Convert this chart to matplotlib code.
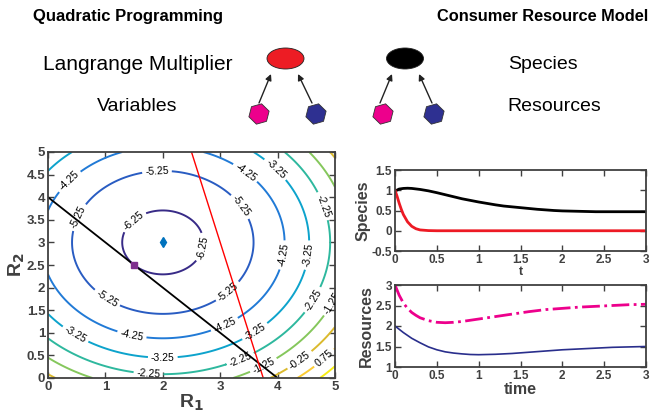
import numpy as np
import matplotlib
matplotlib.use('Agg')
from matplotlib import pyplot as plt
from matplotlib.patches import Ellipse, RegularPolygon

# quadratic objective: 0.5*|r - center|^2 + fmin
center = [2.0, 3.0]
fmin = -6.5
levels = [-6.25, -5.25, -4.25, -3.25, -2.25, -1.25, -0.25, 0.75, 1.75]
# constraints a1*R1 + a2*R2 = b
con_black = [1.0, 1.0, 4.0]
con_red = [4.0, 1.0, 15.0]
qp_solution = [1.5, 2.5]

# species
t_sp1 = [0, 0.05, 0.1, 0.15, 0.2, 0.3, 0.4, 0.5, 0.6, 0.7, 0.8, 0.9, 1.0, 1.1, 1.2, 1.3,
         1.4, 1.5, 1.6, 1.7, 1.8, 1.9, 2.0, 2.2, 2.4, 2.6, 2.8, 3.0]
sp1 = [0.98, 1.03, 1.045, 1.05, 1.045, 1.02, 0.985, 0.94, 0.89, 0.84, 0.79, 0.75, 0.71,
       0.675, 0.64, 0.61, 0.59, 0.57, 0.55, 0.53, 0.515, 0.50, 0.49, 0.48, 0.47, 0.47, 0.47, 0.47]
t_sp2 = [0, 0.025, 0.05, 0.075, 0.1, 0.15, 0.2, 0.25, 0.3, 0.4, 0.5, 1.0, 2.0, 3.0]
sp2 = [1.0, 0.85, 0.68, 0.53, 0.40, 0.22, 0.11, 0.05, 0.02, 0.004, 0.0, 0.0, 0.0, 0.0]

# resources
t_r1 = [0, 0.05, 0.1, 0.15, 0.2, 0.25, 0.3, 0.4, 0.5, 0.6, 0.7, 0.8, 0.9, 1.0, 1.2, 1.4,
        1.6, 1.8, 2.0, 2.2, 2.4, 2.6, 2.8, 3.0]
res1 = [3.0, 2.75, 2.56, 2.43, 2.33, 2.26, 2.20, 2.13, 2.09, 2.08, 2.09, 2.11, 2.14, 2.17,
        2.23, 2.29, 2.35, 2.40, 2.43, 2.46, 2.48, 2.50, 2.52, 2.53]
t_r2 = [0, 0.1, 0.2, 0.3, 0.4, 0.5, 0.6, 0.7, 0.8, 0.9, 1.0, 1.2, 1.4, 1.6, 1.8, 2.0,
        2.2, 2.4, 2.6, 2.8, 3.0]
res2 = [2.0, 1.84, 1.70, 1.59, 1.49, 1.42, 1.37, 1.34, 1.32, 1.305, 1.30, 1.31, 1.33,
        1.36, 1.39, 1.42, 1.44, 1.46, 1.48, 1.49, 1.50]

# where the contour labels sit (roughly as in the figure)
label_spots = [(1.52, 3.43), (2.65, 2.9), (1.9, 4.53), (0.56, 3.54), (3.34, 3.78),
               (1.03, 1.77), (3.14, 1.9), (0.38, 4.34), (3.43, 4.53), (4.09, 2.72),
               (1.46, 0.95), (3.08, 1.17), (3.95, 4.6), (4.51, 2.72), (0.47, 0.95),
               (2.0, 0.46), (3.61, 1.02), (4.74, 3.78), (1.75, 0.09), (4.56, 1.77),
               (3.34, 0.44), (4.95, 1.66), (3.75, 0.29), (4.36, 0.44), (4.79, 0.47)]

# parula-like colours, one per level
level_colors = [(0.22, 0.17, 0.53), (0.16, 0.36, 0.76), (0.13, 0.48, 0.84),
                (0.05, 0.64, 0.80), (0.18, 0.72, 0.62), (0.52, 0.78, 0.36),
                (0.86, 0.73, 0.18), (0.99, 0.80, 0.20), (0.97, 0.93, 0.08)]

plt.rcParams['font.family'] = ['Liberation Sans', 'DejaVu Sans']
axc = '#404040'


def matlab_style(ax, fs=8):
    for s in ax.spines.values():
        s.set_color(axc)
        s.set_linewidth(1.3)
    ax.tick_params(direction='in', top=True, right=True, length=4, width=1,
                   colors=axc, labelsize=fs, pad=2)
    for lab in ax.get_xticklabels() + ax.get_yticklabels():
        lab.set_fontweight('bold')


fig = plt.figure(figsize=(6.68, 4.12), dpi=100)

# ---- contour plot
ax = fig.add_axes([48/668, 34/412, 287/668, 226/412])
g = np.linspace(0, 5, 301)
X, Y = np.meshgrid(g, g)
Z = 0.5 * ((X - center[0])**2 + (Y - center[1])**2) + fmin
cs = ax.contour(X, Y, Z, levels=levels, colors=level_colors, linewidths=1.4)
ax.clabel(cs, fmt='%.2f', fontsize=7.5, colors='k', inline=True, inline_spacing=3,
          manual=label_spots)
xs = np.array([0, 5])
a, b, c = con_black
ax.plot(xs, (c - a*xs)/b, color='k', lw=1.3)
a, b, c = con_red
ax.plot(xs, (c - a*xs)/b, color='red', lw=1.0)
ax.plot(center[0], center[1], 'd', color=(0, 0.447, 0.741), ms=5)
ax.plot(qp_solution[0], qp_solution[1], 's', color=(0.494, 0.184, 0.556), ms=5)
ax.set_xlim(0, 5)
ax.set_ylim(0, 5)
ax.set_xticks(range(6))
ax.set_yticks(np.arange(0, 5.01, 0.5))
ax.set_yticklabels(['0', '0.5', '1', '1.5', '2', '2.5', '3', '3.5', '4', '4.5', '5'])
matlab_style(ax, 9.5)
ax.set_xlabel('R$_\\mathbf{1}$', fontsize=14, fontweight='bold', color=axc, labelpad=0)
ax.set_ylabel('R$_\\mathbf{2}$', fontsize=14, fontweight='bold', color=axc, labelpad=0)

# ---- species
ax1 = fig.add_axes([395/668, 161/412, 251/668, 81/412])
ax1.plot(t_sp1, sp1, color='k', lw=2)
ax1.plot(t_sp2, sp2, color=(0.93, 0.1, 0.14), lw=2)
ax1.set_xlim(0, 3)
ax1.set_ylim(-0.5, 1.5)
ax1.set_xticks([0, 0.5, 1, 1.5, 2, 2.5, 3])
ax1.set_xticklabels(['0', '0.5', '1', '1.5', '2', '2.5', '3'])
ax1.set_yticks([-0.5, 0, 0.5, 1, 1.5])
ax1.set_yticklabels(['-0.5', '0', '0.5', '1', '1.5'])
matlab_style(ax1, 8.5)
ax1.set_xlabel('t', fontsize=9, fontweight='bold', color=axc, labelpad=0)
ax1.set_ylabel('Species', fontsize=11.5, fontweight='bold', color=axc, labelpad=1)

# ---- resources
ax2 = fig.add_axes([395/668, 45/412, 251/668, 82/412])
ax2.plot(t_r1, res1, color=(0.93, 0.0, 0.55), lw=2, ls='-.')
ax2.plot(t_r2, res2, color=(0.16, 0.18, 0.55), lw=1.2)
ax2.set_xlim(0, 3)
ax2.set_ylim(1, 3)
ax2.set_xticks([0, 0.5, 1, 1.5, 2, 2.5, 3])
ax2.set_xticklabels(['0', '0.5', '1', '1.5', '2', '2.5', '3'])
ax2.set_yticks([1, 1.5, 2, 2.5, 3])
ax2.set_yticklabels(['1', '1.5', '2', '2.5', '3'])
matlab_style(ax2, 8.5)
ax2.set_xlabel('time', fontsize=11.5, fontweight='bold', color=axc, labelpad=0)
ax2.set_ylabel('Resources', fontsize=11.5, fontweight='bold', color=axc, labelpad=1)

# ---- schematic on top, in pixel units
top = fig.add_axes([0, 0, 1, 1], zorder=-1)
top.set_xlim(0, 668)
top.set_ylim(412, 0)
top.axis('off')
top.text(128, 16, 'Quadratic Programming', ha='center', va='center', fontsize=12,
         fontweight='bold')
top.text(543, 16, 'Consumer Resource Model', ha='center', va='center', fontsize=11.8,
         fontweight='bold')
top.text(138, 64, 'Langrange Multiplier', ha='center', va='center', fontsize=15)
top.text(137, 106, 'Variables', ha='center', va='center', fontsize=14)
top.text(543, 64, 'Species', ha='center', va='center', fontsize=14)
top.text(554, 106, 'Resources', ha='center', va='center', fontsize=14)

pink = (0.93, 0.0, 0.55)
navy = (0.18, 0.19, 0.57)
for cx, col in [(285.5, (0.93, 0.11, 0.14)), (405, 'k')]:
    top.add_patch(Ellipse((cx, 58.5), 37, 21, facecolor=col, edgecolor='#222222', lw=0.6))
for hx, col in [(259, pink), (316, navy), (383, pink), (434, navy)]:
    top.add_patch(RegularPolygon((hx, 114), 6, radius=10.5, orientation=0.25,
                                 facecolor=col, edgecolor='#333333', lw=0.6))
for x0, x1 in [(259, 271), (312, 298), (380, 392), (432, 419)]:
    top.annotate('', xy=(x1, 74), xytext=(x0, 103),
                 arrowprops=dict(arrowstyle='-|>', color='#222222', lw=1.0,
                                 mutation_scale=9, shrinkA=0, shrinkB=0))

plt.savefig('out.png', dpi=100)
